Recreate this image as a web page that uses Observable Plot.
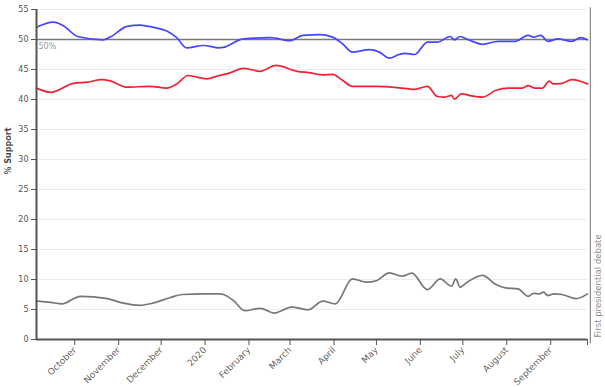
<!DOCTYPE html>
<html>
<head>
<meta charset="utf-8">
<script src="https://cdn.jsdelivr.net/npm/d3@7"></script>
<script src="https://cdn.jsdelivr.net/npm/@observablehq/plot@0.6"></script>
<style>
  html, body { margin: 0; padding: 0; background: #fff; }
  #chart svg { display: block; }
  #chart svg text { -webkit-font-smoothing: antialiased; }
</style>
</head>
<body>
<div id="chart"></div>
<script>
// ---- Data ----
const bidenDates = ["2019-09-04","2019-09-16","2019-09-23","2019-10-03","2019-10-21","2019-10-26","2019-11-07","2019-11-16","2019-11-25","2019-12-05","2019-12-12","2019-12-19","2019-12-31","2020-01-11","2020-01-14","2020-01-28","2020-02-16","2020-03-01","2020-03-10","2020-03-22","2020-03-31","2020-04-07","2020-04-14","2020-04-26","2020-05-03","2020-05-10","2020-05-17","2020-05-21","2020-05-28","2020-06-06","2020-06-13","2020-06-22","2020-06-25","2020-06-29","2020-07-05","2020-07-15","2020-07-26","2020-08-07","2020-08-16","2020-08-20","2020-08-25","2020-08-30","2020-09-06","2020-09-16","2020-09-22","2020-09-27"];
const bidenValues = [52.05,52.9,52.3,50.5,49.95,50.4,52.2,52.4,52.05,51.4,50.3,48.6,49.0,48.6,48.7,50.1,50.3,49.8,50.7,50.8,50.4,49.3,47.9,48.3,47.9,46.9,47.5,47.7,47.5,49.55,49.55,50.5,49.95,50.5,49.95,49.2,49.7,49.7,50.7,50.4,50.7,49.7,50.1,49.7,50.3,49.95];

const trumpDates = ["2019-09-04","2019-09-14","2019-09-30","2019-10-10","2019-10-20","2019-10-26","2019-11-07","2019-11-23","2019-12-05","2019-12-12","2019-12-20","2020-01-02","2020-01-11","2020-01-18","2020-01-28","2020-02-09","2020-02-20","2020-03-06","2020-03-15","2020-03-24","2020-03-31","2020-04-07","2020-04-14","2020-05-01","2020-05-17","2020-05-28","2020-06-06","2020-06-13","2020-06-18","2020-06-23","2020-06-25","2020-06-30","2020-07-07","2020-07-15","2020-07-24","2020-08-02","2020-08-12","2020-08-16","2020-08-21","2020-08-26","2020-08-31","2020-09-03","2020-09-09","2020-09-16","2020-09-27"];
const trumpValues = [41.9,41.2,42.7,42.9,43.3,43.1,42.05,42.2,41.9,42.6,44.0,43.45,44.0,44.4,45.2,44.7,45.7,44.7,44.45,44.1,44.2,43.2,42.2,42.2,41.95,41.7,42.2,40.5,40.4,40.7,40.05,40.95,40.6,40.4,41.5,41.9,41.9,42.3,41.9,41.9,43.05,42.6,42.7,43.3,42.6];

const otherDates = ["2019-09-04","2019-09-14","2019-09-22","2019-10-05","2019-10-24","2019-11-02","2019-11-16","2019-11-25","2019-12-07","2019-12-16","2019-12-31","2020-01-11","2020-01-14","2020-01-21","2020-01-29","2020-02-09","2020-02-19","2020-03-02","2020-03-14","2020-03-24","2020-04-02","2020-04-14","2020-04-24","2020-05-01","2020-05-10","2020-05-19","2020-05-26","2020-06-06","2020-06-15","2020-06-23","2020-06-26","2020-06-29","2020-07-04","2020-07-15","2020-07-24","2020-07-31","2020-08-09","2020-08-16","2020-08-20","2020-08-24","2020-08-27","2020-08-30","2020-09-03","2020-09-09","2020-09-19","2020-09-27"];
const otherValues = [6.4,6.2,5.95,7.2,6.8,6.2,5.7,6.05,6.95,7.5,7.6,7.6,7.5,6.5,4.8,5.2,4.4,5.4,4.95,6.4,5.95,10.1,9.55,9.8,11.1,10.55,11.05,8.3,10.1,8.9,10.1,8.7,9.55,10.7,9.2,8.6,8.45,7.2,7.7,7.6,7.9,7.3,7.6,7.5,6.8,7.6];

const seriesNames = ["Biden", "Trump", "Other"];
const seriesColors = ["#4646ff", "#ee2233", "#777777"];

const monthTicks = ["2019-10-01","2019-11-01","2019-12-01","2020-01-01","2020-02-01","2020-03-01","2020-04-01","2020-05-01","2020-06-01","2020-07-01","2020-08-01","2020-09-01"];
const monthLabels = ["October","November","December","2020","February","March","April","May","June","July","August","September"];
const yTicks = [0,5,10,15,20,25,30,35,40,45,50,55];

const xStart = "2019-09-04";
const xEnd = "2020-09-27";
const debateDate = "2020-09-29";
const debateLabel = "First presidential debate";
const yLabel = "% Support";
const majorityLabel = "50%";
const majorityValue = 50;

// ---- Build tables ----
const parse = s => new Date(s + "T00:00:00Z");
function toRows(dates, values, name) {
  return dates.map((d, i) => ({date: parse(d), value: values[i], series: name}));
}
const rows = [
  ...toRows(bidenDates, bidenValues, seriesNames[0]),
  ...toRows(trumpDates, trumpValues, seriesNames[1]),
  ...toRows(otherDates, otherValues, seriesNames[2])
];
const tickDates = monthTicks.map(parse);
const tickLabelOf = d => {
  const i = tickDates.findIndex(t => +t === +d);
  return i >= 0 ? monthLabels[i] : "";
};

const x0 = parse(xStart), x1 = parse(xEnd), xd = parse(debateDate);

const chart = Plot.plot({
  width: 605,
  height: 387,
  marginLeft: 36,
  marginRight: 18,
  marginTop: 9,
  marginBottom: 48,
  style: {fontFamily: "DejaVu Sans, sans-serif", fontSize: "9px", background: "#fff", overflow: "visible"},
  x: {type: "utc", domain: [x0, x1]},
  y: {domain: [0, 55]},
  color: {domain: seriesNames, range: seriesColors},
  marks: [
    Plot.gridY(yTicks, {stroke: "#ececec", strokeOpacity: 1}),
    Plot.ruleY([majorityValue], {stroke: "#7a7a7a", strokeWidth: 1.6}),
    Plot.text([{x: x0, y: majorityValue}], {x: "x", y: "y", text: () => majorityLabel, textAnchor: "start", dx: 2, dy: 7, fill: "#999", fontSize: 8}),
    Plot.lineY(rows, {x: "date", y: "value", z: "series", stroke: "series", strokeWidth: 1.7, curve: "monotone-x"}),
    // debate marker
    Plot.ruleX([xd], {y1: -0.7, y2: 55.3, stroke: "#888", strokeWidth: 1.2}),
    Plot.text([xd], {x: d => d, y: () => 0.35, text: () => debateLabel, rotate: -90, textAnchor: "start", dx: 8, fill: "#888", fillOpacity: 0.99, fontSize: 8.5}),
    // y axis
    Plot.axisY(yTicks, {tickSize: 5, tickPadding: 3, fontSize: 8, fill: "#555", stroke: "#555", label: null}),
    Plot.ruleX([x0], {stroke: "#555", strokeWidth: 2}),
    Plot.text([yLabel], {frameAnchor: "left", rotate: -90, dx: -28, fontWeight: "bold", fill: "#444", fillOpacity: 0.99, fontSize: 8}),
    // x axis
    Plot.axisX(tickDates, {tickSize: 6, tickRotate: -45, tickPadding: 3, tickFormat: tickLabelOf, fill: "#5a5a5a", fillOpacity: 0.99, stroke: "#555", fontSize: 9, label: null}),
    Plot.ruleY([0], {x1: x0, x2: x1, stroke: "#555", strokeWidth: 2}),
    Plot.ruleX([x1], {y1: 0, y2: -1, stroke: "#555"})
  ]
});

document.getElementById("chart").appendChild(chart);
</script>
</body>
</html>
